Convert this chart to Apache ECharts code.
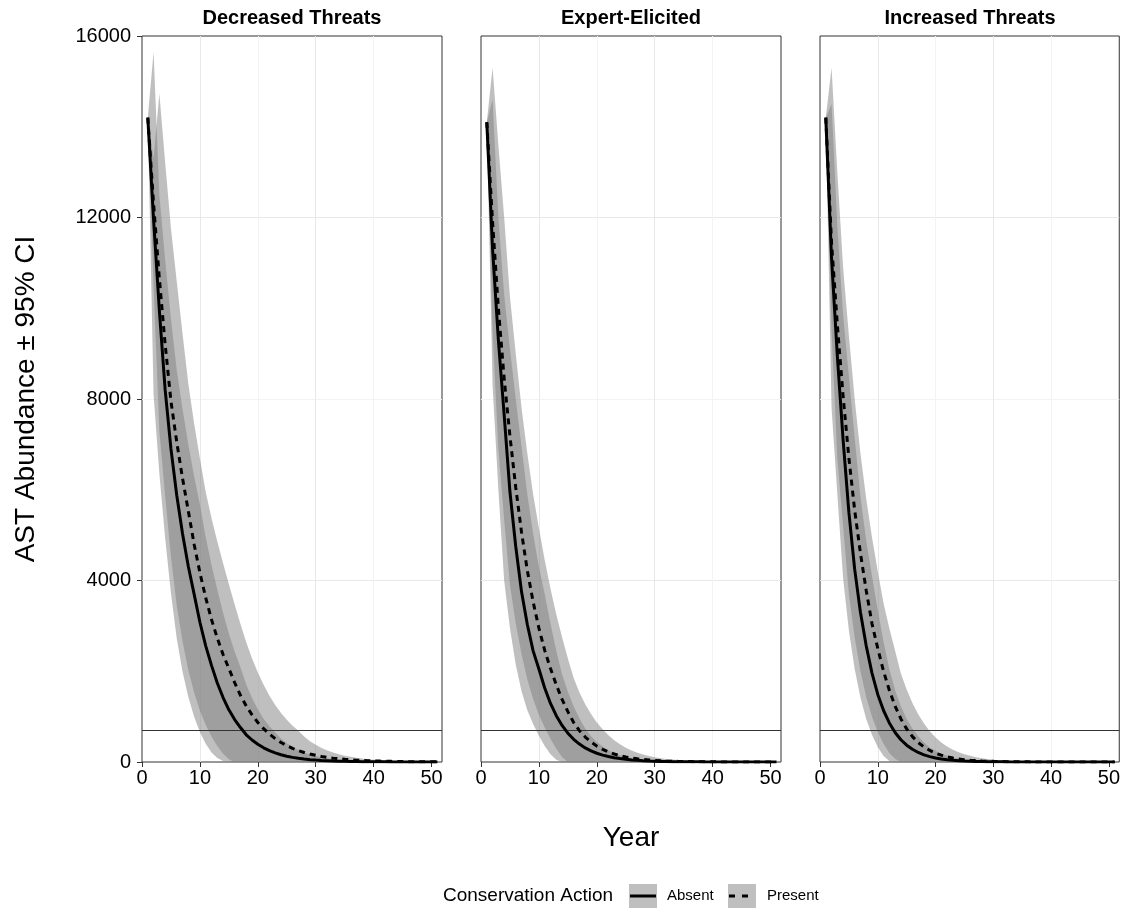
<!DOCTYPE html>
<html>
<head>
<meta charset="UTF-8">
<title>AST Abundance</title>
<script src="https://cdn.jsdelivr.net/npm/echarts@6/dist/echarts.min.js"></script>
<style>
  html, body { margin: 0; padding: 0; background: #fff; }
  #chart { width: 1123px; height: 909px; }
</style>
</head>
<body>
<div id="chart"></div>
<script>
var years = [1,2,3,4,5,6,7,8,9,10,11,12,13,14,15,16,17,18,19,20,21,22,23,24,25,26,27,28,29,30,31,32,33,34,35,36,37,38,39,40,41,42,43,44,45,46,47,48,49,50,51];
var panelTitles = ['Decreased Threats', 'Expert-Elicited', 'Increased Threats'];
var xTicks = [0, 10, 20, 30, 40, 50];
var yTicks = [0, 4000, 8000, 12000, 16000];
var threshold = 710;

// Decreased Threats
var decAbsMid = [14200,11950,9950,8200,6900,5880,5030,4310,3700,3080,2560,2130,1740,1420,1150,935,760,600,485,390,312,250,200,160,128,102,82,65,52,42,33,27,21,17,14,11,9,7,6,5,4,3,2,2,2,1,1,1,1,1,1];
var decAbsLo  = [14200,8100,6350,4930,3720,2720,1990,1430,1000,660,400,210,90,20,0,0,0,0,0,0,0,0,0,0,0,0,0,0,0,0,0,0,0,0,0,0,0,0,0,0,0,0,0,0,0,0,0,0,0,0,0];
var decAbsHi  = [14200,15650,12500,11070,9770,8640,7780,7000,6300,5670,4960,4340,3800,3290,2830,2430,2090,1710,1410,1160,955,790,650,520,415,330,265,210,165,130,102,80,62,48,37,29,22,17,13,10,8,6,5,4,3,2,2,1,1,1,1];
var decPreMid = [14200,12300,10650,9200,7950,7050,6250,5530,4800,4170,3620,3140,2730,2370,2060,1750,1470,1235,1040,870,735,615,515,430,360,300,250,210,175,146,122,102,85,71,59,49,41,34,28,24,20,16,14,11,9,8,7,5,5,4,3];
var decPreLo  = [14200,10500,7290,5870,4530,3450,2660,2020,1530,1130,820,560,350,180,60,0,0,0,0,0,0,0,0,0,0,0,0,0,0,0,0,0,0,0,0,0,0,0,0,0,0,0,0,0,0,0,0,0,0,0,0];
var decPreHi  = [14200,13300,14730,13210,11760,10590,9440,8330,7460,6690,5950,5380,4860,4380,3920,3470,3040,2640,2280,1970,1700,1460,1255,1080,930,800,688,560,460,378,310,254,208,170,140,115,94,77,63,52,42,35,28,23,19,16,13,11,9,7,6];

// Expert-Elicited
var expAbsMid = [14100,11300,9300,7650,5950,4750,3750,3030,2450,2050,1630,1290,1020,805,635,500,395,310,245,193,152,120,95,75,59,46,36,28,22,17,13,10,8,6,5,4,3,3,2,2,1,1,1,1,1,1,1,1,1,1,1];
var expAbsLo  = [14100,8300,6000,4000,2950,2150,1560,1140,840,580,350,170,50,0,0,0,0,0,0,0,0,0,0,0,0,0,0,0,0,0,0,0,0,0,0,0,0,0,0,0,0,0,0,0,0,0,0,0,0,0,0];
var expAbsHi  = [14100,14600,12000,10300,9100,8000,6950,5900,5030,4300,3700,3050,2450,1930,1550,1230,960,740,570,440,340,260,200,150,115,88,67,51,39,30,23,17,13,10,8,6,5,4,3,2,2,1,1,1,1,1,1,1,1,1,1];
var expPreMid = [14100,11900,10000,8450,7180,6050,5060,4220,3530,2950,2460,2060,1700,1380,1110,870,690,550,440,350,280,222,177,141,112,89,71,57,45,36,29,23,18,14,11,9,7,6,5,4,3,2,2,2,1,1,1,1,1,1,1];
var expPreLo  = [14100,9500,6900,5340,3900,3050,2380,1820,1390,1040,760,510,290,110,0,0,0,0,0,0,0,0,0,0,0,0,0,0,0,0,0,0,0,0,0,0,0,0,0,0,0,0,0,0,0,0,0,0,0,0,0];
var expPreHi  = [14100,15300,13600,12000,10250,9000,7800,6800,5900,5150,4450,3820,3250,2750,2280,1850,1530,1270,1060,870,720,590,480,390,315,255,205,165,132,105,84,67,53,42,33,26,21,16,13,10,8,6,5,4,3,2,2,2,1,1,1];

// Increased Threats
var incAbsMid = [14200,11100,8950,7100,5500,4250,3300,2560,1960,1490,1135,860,650,490,370,280,210,158,119,89,67,50,38,28,21,16,12,9,7,5,4,3,2,2,1,1,1,1,1,1,1,1,1,1,1,1,1,1,1,1,1];
var incAbsLo  = [14200,7800,5900,4050,2900,2050,1420,950,600,330,130,20,0,0,0,0,0,0,0,0,0,0,0,0,0,0,0,0,0,0,0,0,0,0,0,0,0,0,0,0,0,0,0,0,0,0,0,0,0,0,0];
var incAbsHi  = [14200,14500,11800,9850,8500,7150,5850,4880,4100,3350,2650,2050,1580,1230,950,740,570,430,320,240,180,135,100,75,56,42,31,23,17,13,10,7,5,4,3,2,2,1,1,1,1,1,1,1,1,1,1,1,1,1,1];
var incPreMid = [14200,11440,9640,8060,6700,5550,4600,3780,3050,2500,2000,1580,1230,950,730,560,430,330,255,195,150,115,88,68,52,40,31,24,18,14,11,8,6,5,4,3,2,2,1,1,1,1,1,1,1,1,1,1,1,1,1];
var incPreLo  = [14200,9500,6700,5200,3700,2750,2000,1430,1000,660,400,200,70,0,0,0,0,0,0,0,0,0,0,0,0,0,0,0,0,0,0,0,0,0,0,0,0,0,0,0,0,0,0,0,0,0,0,0,0,0,0];
var incPreHi  = [14200,15300,13000,10900,9400,8000,6800,5800,4950,4200,3500,2950,2450,1950,1600,1300,1050,850,680,540,430,340,270,215,170,135,105,84,66,52,41,32,25,20,16,12,10,8,6,5,4,3,2,2,2,1,1,1,1,1,1];

var panels = [
  { absMid: decAbsMid, absLo: decAbsLo, absHi: decAbsHi, preMid: decPreMid, preLo: decPreLo, preHi: decPreHi },
  { absMid: expAbsMid, absLo: expAbsLo, absHi: expAbsHi, preMid: expPreMid, preLo: expPreLo, preHi: expPreHi },
  { absMid: incAbsMid, absLo: incAbsLo, absHi: incAbsHi, preMid: incPreMid, preLo: incPreLo, preHi: incPreHi }
];

var FONT = '"Liberation Sans", Arial, sans-serif';
var lefts = [142, 481, 820];
var panelW = 300, panelTop = 36, panelH = 726;
var ribbonFill = 'rgba(128,128,128,0.5)';

function pairs(vals) {
  return vals.map(function (v, i) { return [years[i], v]; });
}

// one polygon per ribbon, placed through the axis scales with api.coord
function ribbon(i, lo, hi) {
  return {
    type: 'custom', xAxisIndex: i, yAxisIndex: i, silent: true, z: 2,
    data: years.map(function (y, k) { return [y, lo[k], hi[k]]; }),
    encode: { x: 0, y: [1, 2] },
    renderItem: function (params, api) {
      if (params.dataIndex !== 0) return null;
      var pts = [], k;
      for (k = 0; k < years.length; k++) pts.push(api.coord([years[k], hi[k]]));
      for (k = years.length - 1; k >= 0; k--) pts.push(api.coord([years[k], lo[k]]));
      return { type: 'polygon', shape: { points: pts }, style: { fill: ribbonFill } };
    }
  };
}

var grids = [], xAxes = [], yAxes = [], series = [], graphics = [];

panels.forEach(function (p, i) {
  grids.push({
    left: lefts[i], top: panelTop, width: panelW, height: panelH,
    show: true, borderColor: '#333', borderWidth: 1, backgroundColor: '#fff'
  });
  xAxes.push({
    gridIndex: i, type: 'value', min: 0, max: 51.8, interval: 5,
    name: i === 1 ? 'Year' : '', nameLocation: 'middle', nameGap: 62,
    nameTextStyle: { fontSize: 28, color: '#000', fontFamily: FONT },
    axisLine: { show: false },
    axisTick: { show: true, customValues: xTicks, length: 5, lineStyle: { color: '#333' } },
    axisLabel: { customValues: xTicks, fontSize: 20, color: '#000', margin: 6, fontFamily: FONT },
    splitLine: { show: true, showMinLine: false, showMaxLine: false, lineStyle: { color: ['#e8e8e8', '#f3f3f3'], width: 1 } }
  });
  yAxes.push({
    gridIndex: i, type: 'value', min: 0, max: 16000, interval: 2000,
    name: i === 0 ? 'AST Abundance \u00b1 95% CI' : '', nameLocation: 'middle', nameGap: 102,
    nameTextStyle: { fontSize: 28, color: '#000', fontFamily: FONT },
    axisLine: { show: false },
    axisTick: { show: i === 0, customValues: yTicks, length: 5, lineStyle: { color: '#333' } },
    axisLabel: {
      show: i === 0, customValues: yTicks, fontSize: 20, color: '#000', margin: 11, fontFamily: FONT,
      formatter: function (v) { return String(v); }
    },
    splitLine: { show: true, showMinLine: false, showMaxLine: false, lineStyle: { color: ['#e8e8e8', '#f3f3f3'], width: 1 } }
  });

  series.push(ribbon(i, p.absLo, p.absHi));
  series.push(ribbon(i, p.preLo, p.preHi));

  series.push({
    type: 'line', xAxisIndex: i, yAxisIndex: i, data: pairs(p.absMid),
    symbol: 'none', z: 5, silent: true, lineStyle: { color: '#000', width: 3, type: 'solid' },
    markLine: {
      silent: true, symbol: ['none', 'none'], label: { show: false },
      lineStyle: { color: '#333', width: 1, type: 'solid' },
      data: [{ yAxis: threshold }]
    }
  });
  series.push({
    type: 'line', xAxisIndex: i, yAxisIndex: i, data: pairs(p.preMid),
    symbol: 'none', z: 6, silent: true, lineStyle: { color: '#000', width: 3, type: [6, 5], cap: 'butt' }
  });

  graphics.push({
    type: 'text', x: lefts[i] + panelW / 2, y: 18,
    style: { text: panelTitles[i], font: 'bold 20px ' + FONT, fill: '#000', align: 'center', verticalAlign: 'middle' }
  });
});

// legend
graphics.push(
  { type: 'text', x: 443, y: 896, style: { text: 'Conservation Action', font: '19px ' + FONT, fill: '#000', align: 'left', verticalAlign: 'middle' } },
  { type: 'rect', shape: { x: 629, y: 884, width: 28, height: 24 }, style: { fill: '#bfbfbf' } },
  { type: 'line', shape: { x1: 630, y1: 896, x2: 656, y2: 896 }, style: { stroke: '#000', lineWidth: 3 } },
  { type: 'text', x: 667, y: 896, style: { text: 'Absent', font: '15px ' + FONT, fill: '#000', align: 'left', verticalAlign: 'middle' } },
  { type: 'rect', shape: { x: 728, y: 884, width: 28, height: 24 }, style: { fill: '#bfbfbf' } },
  { type: 'line', shape: { x1: 729, y1: 896, x2: 755, y2: 896 }, style: { stroke: '#000', lineWidth: 3, lineDash: [6, 7] } },
  { type: 'text', x: 767, y: 896, style: { text: 'Present', font: '15px ' + FONT, fill: '#000', align: 'left', verticalAlign: 'middle' } }
);

var chart = echarts.init(document.getElementById('chart'));
chart.setOption({
  animation: false,
  backgroundColor: '#fff',
  textStyle: { fontFamily: FONT },
  grid: grids,
  xAxis: xAxes,
  yAxis: yAxes,
  series: series,
  graphic: graphics
});
</script>
</body>
</html>
